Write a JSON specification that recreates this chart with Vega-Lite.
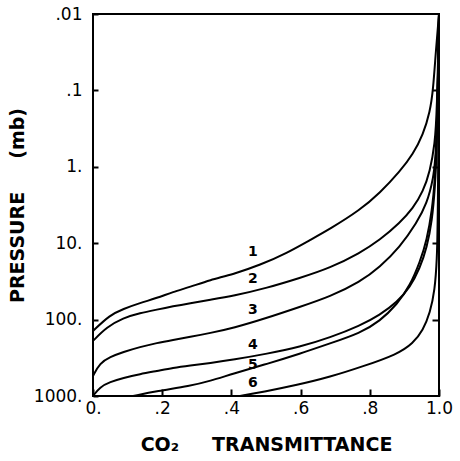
{
  "$schema": "https://vega.github.io/schema/vega-lite/v6.json",
  "width": 346,
  "height": 382,
  "autosize": {"type": "none"},
  "padding": {"left": 93, "top": 14, "right": 21, "bottom": 65},
  "background": "white",
  "config": {
    "view": {"stroke": "black", "strokeWidth": 2},
    "font": "DejaVu Sans",
    "axis": {"grid": false, "domain": false, "tickColor": "black", "tickWidth": 2, "labelColor": "black", "titleColor": "black", "labelFont": "DejaVu Sans", "titleFont": "DejaVu Sans"}
  },
  "datasets": {
    "curves": [
      {"curve": "1", "T": 0.0, "P": 141},
      {"curve": "1", "T": 0.049, "P": 87},
      {"curve": "1", "T": 0.087, "P": 72.6},
      {"curve": "1", "T": 0.136, "P": 60.6},
      {"curve": "1", "T": 0.185, "P": 52.1},
      {"curve": "1", "T": 0.231, "P": 43.5},
      {"curve": "1", "T": 0.28, "P": 37.4},
      {"curve": "1", "T": 0.338, "P": 30.3},
      {"curve": "1", "T": 0.405, "P": 25.5},
      {"curve": "1", "T": 0.483, "P": 19.3},
      {"curve": "1", "T": 0.561, "P": 13.4},
      {"curve": "1", "T": 0.627, "P": 9.08},
      {"curve": "1", "T": 0.685, "P": 6.5},
      {"curve": "1", "T": 0.772, "P": 3.67},
      {"curve": "1", "T": 0.829, "P": 2.2},
      {"curve": "1", "T": 0.887, "P": 1.15},
      {"curve": "1", "T": 0.925, "P": 0.68},
      {"curve": "1", "T": 0.954, "P": 0.38},
      {"curve": "1", "T": 0.974, "P": 0.19},
      {"curve": "1", "T": 0.983, "P": 0.099},
      {"curve": "1", "T": 0.991, "P": 0.03},
      {"curve": "1", "T": 1.0, "P": 0.01},
      {"curve": "2", "T": 0.0, "P": 190},
      {"curve": "2", "T": 0.04, "P": 125},
      {"curve": "2", "T": 0.087, "P": 95},
      {"curve": "2", "T": 0.136, "P": 82},
      {"curve": "2", "T": 0.185, "P": 74},
      {"curve": "2", "T": 0.231, "P": 67},
      {"curve": "2", "T": 0.28, "P": 61},
      {"curve": "2", "T": 0.338, "P": 55},
      {"curve": "2", "T": 0.405, "P": 49},
      {"curve": "2", "T": 0.503, "P": 38.5},
      {"curve": "2", "T": 0.598, "P": 28.5},
      {"curve": "2", "T": 0.685, "P": 21.1},
      {"curve": "2", "T": 0.772, "P": 13.4},
      {"curve": "2", "T": 0.829, "P": 9.1},
      {"curve": "2", "T": 0.887, "P": 5.4},
      {"curve": "2", "T": 0.925, "P": 3.5},
      {"curve": "2", "T": 0.954, "P": 2.1},
      {"curve": "2", "T": 0.974, "P": 1.15},
      {"curve": "2", "T": 0.988, "P": 0.5},
      {"curve": "2", "T": 0.994, "P": 0.2},
      {"curve": "2", "T": 1.0, "P": 0.01},
      {"curve": "3", "T": 0.0, "P": 547},
      {"curve": "3", "T": 0.02, "P": 370},
      {"curve": "3", "T": 0.049, "P": 309},
      {"curve": "3", "T": 0.087, "P": 266},
      {"curve": "3", "T": 0.136, "P": 228},
      {"curve": "3", "T": 0.185, "P": 202},
      {"curve": "3", "T": 0.231, "P": 185},
      {"curve": "3", "T": 0.28, "P": 169},
      {"curve": "3", "T": 0.338, "P": 150},
      {"curve": "3", "T": 0.405, "P": 129},
      {"curve": "3", "T": 0.503, "P": 95},
      {"curve": "3", "T": 0.598, "P": 68},
      {"curve": "3", "T": 0.685, "P": 50},
      {"curve": "3", "T": 0.772, "P": 32},
      {"curve": "3", "T": 0.829, "P": 20.5},
      {"curve": "3", "T": 0.887, "P": 11.2},
      {"curve": "3", "T": 0.936, "P": 5.4},
      {"curve": "3", "T": 0.965, "P": 3.0},
      {"curve": "3", "T": 0.983, "P": 1.49},
      {"curve": "3", "T": 0.994, "P": 0.6},
      {"curve": "3", "T": 1.0, "P": 0.01},
      {"curve": "4", "T": 0.0, "P": 1000},
      {"curve": "4", "T": 0.02, "P": 762},
      {"curve": "4", "T": 0.049, "P": 656},
      {"curve": "4", "T": 0.087, "P": 581},
      {"curve": "4", "T": 0.136, "P": 515},
      {"curve": "4", "T": 0.185, "P": 471},
      {"curve": "4", "T": 0.231, "P": 430},
      {"curve": "4", "T": 0.28, "P": 400},
      {"curve": "4", "T": 0.338, "P": 370},
      {"curve": "4", "T": 0.405, "P": 335},
      {"curve": "4", "T": 0.503, "P": 280},
      {"curve": "4", "T": 0.598, "P": 228},
      {"curve": "4", "T": 0.685, "P": 172},
      {"curve": "4", "T": 0.772, "P": 120},
      {"curve": "4", "T": 0.829, "P": 87},
      {"curve": "4", "T": 0.879, "P": 59},
      {"curve": "4", "T": 0.916, "P": 38},
      {"curve": "4", "T": 0.945, "P": 21},
      {"curve": "4", "T": 0.965, "P": 11.5},
      {"curve": "4", "T": 0.98, "P": 5.0},
      {"curve": "4", "T": 0.988, "P": 2.0},
      {"curve": "4", "T": 0.994, "P": 0.6},
      {"curve": "4", "T": 1.0, "P": 0.01},
      {"curve": "5", "T": 0.116, "P": 1000},
      {"curve": "5", "T": 0.185, "P": 861},
      {"curve": "5", "T": 0.28, "P": 740},
      {"curve": "5", "T": 0.338, "P": 637},
      {"curve": "5", "T": 0.405, "P": 510},
      {"curve": "5", "T": 0.503, "P": 380},
      {"curve": "5", "T": 0.598, "P": 280},
      {"curve": "5", "T": 0.685, "P": 205},
      {"curve": "5", "T": 0.772, "P": 150},
      {"curve": "5", "T": 0.829, "P": 105},
      {"curve": "5", "T": 0.879, "P": 63},
      {"curve": "5", "T": 0.916, "P": 36},
      {"curve": "5", "T": 0.945, "P": 17.6},
      {"curve": "5", "T": 0.965, "P": 9.1},
      {"curve": "5", "T": 0.98, "P": 3.7},
      {"curve": "5", "T": 0.988, "P": 1.5},
      {"curve": "5", "T": 0.994, "P": 0.45},
      {"curve": "5", "T": 1.0, "P": 0.01},
      {"curve": "6", "T": 0.425, "P": 1000},
      {"curve": "6", "T": 0.491, "P": 887},
      {"curve": "6", "T": 0.59, "P": 718},
      {"curve": "6", "T": 0.685, "P": 564},
      {"curve": "6", "T": 0.78, "P": 410},
      {"curve": "6", "T": 0.879, "P": 285},
      {"curve": "6", "T": 0.925, "P": 205},
      {"curve": "6", "T": 0.954, "P": 137},
      {"curve": "6", "T": 0.974, "P": 82},
      {"curve": "6", "T": 0.988, "P": 41},
      {"curve": "6", "T": 0.994, "P": 16.6},
      {"curve": "6", "T": 0.997, "P": 5.0},
      {"curve": "6", "T": 1.0, "P": 0.01}
    ],
    "labels": [
      {"label": "1", "T": 0.462, "P": 13},
      {"label": "2", "T": 0.462, "P": 29.5},
      {"label": "3", "T": 0.462, "P": 75},
      {"label": "4", "T": 0.462, "P": 215},
      {"label": "5", "T": 0.462, "P": 393},
      {"label": "6", "T": 0.462, "P": 676}
    ]
  },
  "layer": [
    {
      "data": {"name": "curves"},
      "mark": {"type": "line", "color": "black", "strokeWidth": 2, "interpolate": "basis"},
      "encoding": {
        "x": {
          "field": "T", "type": "quantitative",
          "scale": {"domain": [0, 1], "nice": false, "zero": false},
          "axis": {
            "values": [0, 0.05, 0.1, 0.15, 0.2, 0.25, 0.3, 0.35, 0.4, 0.45, 0.5, 0.55, 0.6, 0.65, 0.7, 0.75, 0.8, 0.85, 0.9, 0.95, 1.0],
            "labelExpr": "round(datum.value*20) % 2 == 1 ? '' : (datum.value < 0.01 ? '0.' : (datum.value > 0.99 ? '1.0' : '.' + format(round(datum.value*10), 'd')))",
            "offset": -7,
            "tickSize": 7,
            "labelPadding": 4,
            "labelFontSize": 17,
            "labelFlush": false,
            "labelOverlap": false,
            "title": "CO₂\u00a0\u00a0\u00a0\u00a0\u00a0TRANSMITTANCE",
            "titleFontSize": 19,
            "titleFontWeight": "bold",
            "titleBaseline": "alphabetic",
            "titleY": 61
          }
        },
        "y": {
          "field": "P", "type": "quantitative",
          "scale": {"type": "log", "domain": [0.01, 1000], "reverse": true, "nice": false},
          "axis": {
            "values": [0.01, 0.1, 1, 10, 100, 1000],
            "labelExpr": "datum.value < 0.05 ? '.01' : (datum.value < 0.5 ? '.1' : (datum.value < 5 ? '1.' : (datum.value < 50 ? '10.' : (datum.value < 500 ? '100.' : '1000.'))))",
            "offset": -5,
            "tickSize": 5,
            "labelPadding": 11,
            "labelFontSize": 17,
            "labelFlush": false,
            "labelOverlap": false,
            "title": "PRESSURE\u00a0\u00a0\u00a0\u00a0\u00a0(mb)",
            "titleFontSize": 19,
            "titleFontWeight": "bold",
            "titleBaseline": "alphabetic",
            "titleX": -75
          }
        },
        "detail": {"field": "curve"}
      }
    },
    {
      "data": {"name": "labels"},
      "mark": {"type": "text", "color": "black", "fontSize": 14, "fontWeight": "bold", "font": "DejaVu Sans", "baseline": "middle", "align": "center"},
      "encoding": {
        "x": {"field": "T", "type": "quantitative"},
        "y": {
          "field": "P", "type": "quantitative",
          "axis": {"orient": "right", "values": [0.1, 1, 10, 100], "offset": -7, "tickSize": 7, "labels": false, "title": null, "domain": false}
        },
        "text": {"field": "label"}
      }
    }
  ],
  "resolve": {"axis": {"y": "independent"}}
}
